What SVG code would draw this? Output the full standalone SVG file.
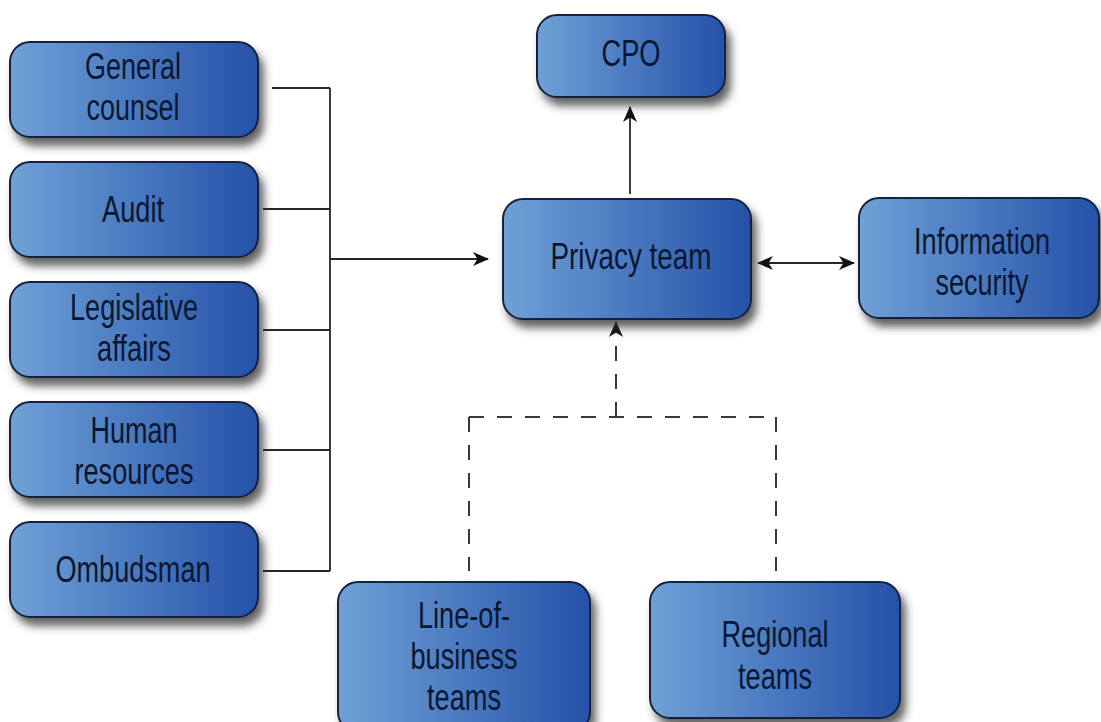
<svg xmlns="http://www.w3.org/2000/svg" width="1101" height="722" viewBox="0 0 1101 722">
  <defs>
    <style>
      .box { fill: url(#boxFill); stroke: #17223d; stroke-width: 2; filter: url(#shadow); }
      .lbl { font-family: "Liberation Sans Narrow", "Liberation Sans", Arial, sans-serif; font-size: 36px; fill: #0b1730; text-anchor: middle; }
      .wire { fill: none; stroke: #262626; stroke-width: 1.8; }
      .dash { fill: none; stroke: #383838; stroke-width: 2; stroke-dasharray: 15 13; }
    </style>
    <linearGradient id="boxFill" x1="0" y1="0" x2="1" y2="0">
      <stop offset="0" stop-color="#6fa1d7"/>
      <stop offset="1" stop-color="#2551a8"/>
    </linearGradient>
    <filter id="shadow" x="-10%" y="-10%" width="125%" height="140%">
      <feGaussianBlur in="SourceAlpha" stdDeviation="4.5"/>
      <feOffset dx="5" dy="8" result="off"/>
      <feFlood flood-color="#303030" flood-opacity="0.75"/>
      <feComposite in2="off" operator="in"/>
      <feMerge>
        <feMergeNode/>
        <feMergeNode in="SourceGraphic"/>
      </feMerge>
    </filter>
    <marker id="head" viewBox="0 0 16 14" refX="15" refY="7" markerWidth="16" markerHeight="14" markerUnits="userSpaceOnUse" orient="auto-start-reverse">
      <path d="M0,0 L16,7 L0,14 L4.5,7 z" fill="#111"/>
    </marker>
  </defs>

  <rect width="1101" height="722" fill="#ffffff"/>

  <!-- connectors -->
  <g id="connectors">
    <path class="wire" d="M272,88 H330 M263,209 H330 M263,330 H330 M263,450 H330 M263,571 H330 M330,88 V571"/>
    <path class="wire" d="M330,259 H488" marker-end="url(#head)"/>
    <path class="wire" d="M630,194 V107" marker-end="url(#head)"/>
    <path class="wire" d="M758,263 H854" marker-start="url(#head)" marker-end="url(#head)"/>
    <!-- dashed reporting lines from the team boxes -->
    <path class="dash" d="M469,417 V571"/>
    <path class="dash" d="M776,417 V571"/>
    <path class="dash" d="M469,417 H776"/>
    <path class="dash" d="M616,417 V322" marker-end="url(#head)"/>
  </g>

  <!-- nodes -->
  <g id="general-counsel">
    <rect class="box" x="10" y="42" width="248" height="95" rx="20"/>
    <text class="lbl" x="133" y="79" textLength="96" lengthAdjust="spacingAndGlyphs">General</text>
    <text class="lbl" x="133" y="120" textLength="93" lengthAdjust="spacingAndGlyphs">counsel</text>
  </g>
  <g id="audit">
    <rect class="box" x="10" y="162" width="248" height="95" rx="20"/>
    <text class="lbl" x="133" y="222" textLength="62" lengthAdjust="spacingAndGlyphs">Audit</text>
  </g>
  <g id="legislative-affairs">
    <rect class="box" x="10" y="282" width="248" height="95" rx="20"/>
    <text class="lbl" x="134" y="320" textLength="128" lengthAdjust="spacingAndGlyphs">Legislative</text>
    <text class="lbl" x="134" y="361" textLength="74" lengthAdjust="spacingAndGlyphs">affairs</text>
  </g>
  <g id="human-resources">
    <rect class="box" x="10" y="402" width="248" height="95" rx="20"/>
    <text class="lbl" x="134" y="443" textLength="87" lengthAdjust="spacingAndGlyphs">Human</text>
    <text class="lbl" x="134" y="484" textLength="119" lengthAdjust="spacingAndGlyphs">resources</text>
  </g>
  <g id="ombudsman">
    <rect class="box" x="10" y="522" width="248" height="95" rx="20"/>
    <text class="lbl" x="133" y="582" textLength="155" lengthAdjust="spacingAndGlyphs">Ombudsman</text>
  </g>
  <g id="cpo">
    <rect class="box" x="537" y="15" width="188" height="82" rx="20"/>
    <text class="lbl" x="631" y="66" textLength="59" lengthAdjust="spacingAndGlyphs">CPO</text>
  </g>
  <g id="privacy-team">
    <rect class="box" x="503" y="199" width="248" height="120" rx="20"/>
    <text class="lbl" x="631" y="269" textLength="161" lengthAdjust="spacingAndGlyphs">Privacy team</text>
  </g>
  <g id="information-security">
    <rect class="box" x="859" y="198" width="240" height="120" rx="20"/>
    <text class="lbl" x="982" y="254" textLength="136" lengthAdjust="spacingAndGlyphs">Information</text>
    <text class="lbl" x="982" y="295" textLength="93" lengthAdjust="spacingAndGlyphs">security</text>
  </g>
  <g id="line-of-business-teams">
    <rect class="box" x="338" y="582" width="252" height="150" rx="20"/>
    <text class="lbl" x="464" y="628" textLength="92" lengthAdjust="spacingAndGlyphs">Line-of-</text>
    <text class="lbl" x="464" y="669" textLength="107" lengthAdjust="spacingAndGlyphs">business</text>
    <text class="lbl" x="464" y="710" textLength="74" lengthAdjust="spacingAndGlyphs">teams</text>
  </g>
  <g id="regional-teams">
    <rect class="box" x="650" y="582" width="250" height="136" rx="20"/>
    <text class="lbl" x="775" y="647" textLength="107" lengthAdjust="spacingAndGlyphs">Regional</text>
    <text class="lbl" x="775" y="689" textLength="74" lengthAdjust="spacingAndGlyphs">teams</text>
  </g>
</svg>
